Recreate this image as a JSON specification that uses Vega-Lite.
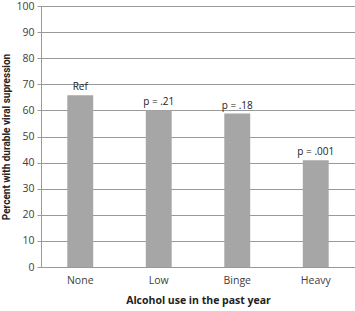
{
  "$schema": "https://vega.github.io/schema/vega-lite/v6.json",
  "autosize": "none",
  "width": 314,
  "height": 261,
  "padding": {"left": 41, "top": 6, "right": 0, "bottom": 44},
  "background": "white",
  "config": {
    "view": {"stroke": null},
    "font": "Open Sans",
    "axis": {"labelFont": "Open Sans", "titleFont": "Open Sans", "labelColor": "#404040", "titleColor": "#222222"}
  },
  "data": {
    "values": [
      {"alcohol": "None", "pct": 65.8, "label": "Ref"},
      {"alcohol": "Low", "pct": 60.1, "label": "p = .21"},
      {"alcohol": "Binge", "pct": 58.8, "label": "p = .18"},
      {"alcohol": "Heavy", "pct": 40.9, "label": "p = .001"}
    ]
  },
  "encoding": {
    "x": {
      "field": "alcohol", "type": "nominal", "sort": null,
      "scale": {"paddingInner": 0.67, "paddingOuter": 0.335},
      "axis": {
        "title": "Alcohol use in the past year",
        "titleFontWeight": "bold", "titleFontSize": 10.5, "titlePadding": 10,
        "labelAngle": 0, "labelFontSize": 10.5, "labelPadding": 8,
        "ticks": false, "domain": true, "domainColor": "#999999", "grid": false
      }
    },
    "y": {
      "field": "pct", "type": "quantitative",
      "scale": {"domain": [0, 100], "nice": false},
      "axis": {
        "title": "Percent  with durable viral supression",
        "titleFont": "Liberation Sans Narrow, Roboto",
        "titleFontWeight": "bold", "titleFontSize": 10, "titlePadding": 4,
        "values": [0,10,20,30,40,50,60,70,80,90,100],
        "labelFontSize": 10.5, "labelPadding": 3,
        "tickSize": 4, "tickColor": "#999999",
        "domainColor": "#999999",
        "grid": true, "gridColor": "#999999", "gridWidth": 1
      }
    }
  },
  "layer": [
    {"mark": {"type": "bar", "color": "#a6a6a6"}},
    {"mark": {"type": "text", "baseline": "bottom", "dy": -3, "fontSize": 10, "color": "#222222", "font": "Open Sans"},
     "encoding": {"text": {"field": "label"}}}
  ]
}
